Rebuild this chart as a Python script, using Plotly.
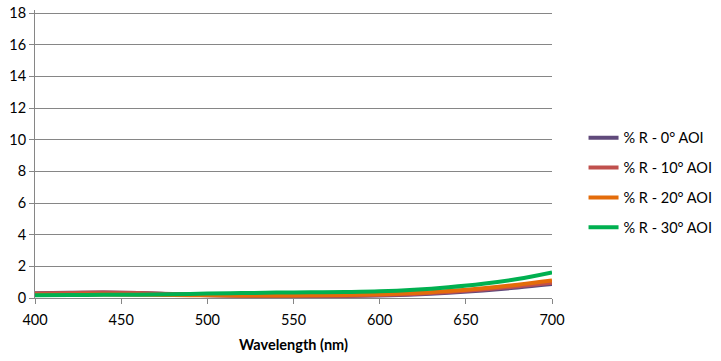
import plotly.graph_objects as go

wavelength = [400, 420, 440, 460, 480, 500, 520, 540, 560, 580, 600, 620, 640, 660, 680, 700]
r_0 = [0.30, 0.33, 0.35, 0.32, 0.25, 0.18, 0.14, 0.12, 0.12, 0.13, 0.16, 0.22, 0.33, 0.48, 0.66, 0.88]
r_10 = [0.28, 0.32, 0.34, 0.31, 0.25, 0.19, 0.15, 0.14, 0.14, 0.15, 0.19, 0.26, 0.38, 0.54, 0.74, 0.97]
r_20 = [0.20, 0.21, 0.22, 0.21, 0.19, 0.17, 0.16, 0.16, 0.17, 0.19, 0.24, 0.32, 0.45, 0.62, 0.84, 1.10]
r_30 = [0.18, 0.19, 0.20, 0.21, 0.24, 0.28, 0.31, 0.34, 0.36, 0.38, 0.42, 0.52, 0.68, 0.90, 1.20, 1.62]

names = ["% R - 0° AOI", "% R - 10° AOI", "% R - 20° AOI", "% R - 30° AOI"]
colors = ["#604A7B", "#C0504D", "#E46C0A", "#00B050"]
series = [r_0, r_10, r_20, r_30]

fig = go.Figure()
for i, (nm, col, ys) in enumerate(zip(names, colors, series)):
    fig.add_trace(go.Scatter(x=wavelength, y=ys, mode="lines", name=nm,
                             line=dict(color=col, width=4, shape="spline"),
                             legendgroup=str(i)))

font = "Lato"
fig.update_layout(
    width=721, height=361,
    margin=dict(l=35, r=169, t=10, b=63, autoexpand=False),
    paper_bgcolor="white", plot_bgcolor="white",
    font=dict(family=font, size=14.5, color="#000000"),
    showlegend=True,
    legend=dict(x=1.061, xanchor="left", y=0.40, yanchor="middle",
                font=dict(size=14.5), tracegroupgap=8, itemwidth=30),
    xaxis=dict(range=[400, 700], tickvals=[400, 450, 500, 550, 600, 650, 700],
               showgrid=False, showline=True, linecolor="#868686", linewidth=1,
               ticks="outside", ticklen=5, tickcolor="#868686", ticklabelstandoff=4,
               title=dict(text="<b>Wavelength (nm)</b>", font=dict(size=14.5), standoff=12),
               zeroline=False, automargin=False, ticklabeloverflow="allow"),
    yaxis=dict(range=[0, 18.19], tickvals=[0, 2, 4, 6, 8, 10, 12, 14, 16, 18],
               showgrid=True, gridcolor="#868686", gridwidth=1,
               showline=True, linecolor="#868686", linewidth=1,
               ticks="outside", ticklen=5, tickcolor="#868686", zeroline=False,
               automargin=False, ticklabeloverflow="allow"),
)
fig.write_html("out.html", config={"displayModeBar": False},
               post_script="document.body.style.margin='0';")
